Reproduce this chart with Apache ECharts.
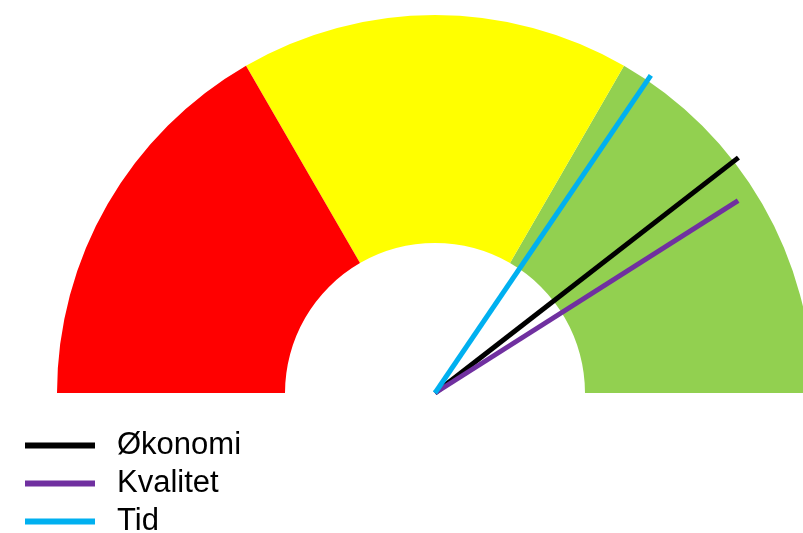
<!DOCTYPE html>
<html>
<head>
<meta charset="utf-8">
<script src="https://cdn.jsdelivr.net/npm/echarts@6/dist/echarts.min.js"></script>
<style>
  html, body { margin: 0; padding: 0; background: #fff; }
  #myChart { width: 803px; height: 533px; }
</style>
</head>
<body>
<div id="myChart"></div>
<script>
// gauge bands (share of the half circle) and their colours
var bandStops = [1 / 3, 2 / 3, 1]
var bandColors = ['#FF0000', '#FFFF00', '#92D050']

// needles
var names = ['Økonomi', 'Kvalitet', 'Tid']
var values = [79, 82, 69]
var needleColors = ['#000000', '#7030A0', '#00B0F0']
var needleLengths = [384, 359, 384]

var center = [435, 393]

function buildGauge (i) {
  return {
    name: names[i],
    type: 'gauge',
    center: center,
    radius: 378,
    startAngle: 180,
    endAngle: 0,
    min: 0,
    max: 100,
    z: 2 + i,
    axisLine: {
      show: i === 0,
      roundCap: false,
      lineStyle: {
        width: 228,
        color: bandStops.map(function (s, k) { return [s, bandColors[k]] })
      }
    },
    splitLine: { show: false },
    axisTick: { show: false },
    axisLabel: { show: false },
    anchor: { show: false },
    progress: { show: false },
    title: { show: false },
    detail: { show: false },
    pointer: {
      show: true,
      icon: 'rect',
      length: needleLengths[i],
      width: 5,
      offsetCenter: [0, 0],
      itemStyle: { color: needleColors[i] }
    },
    itemStyle: { color: needleColors[i] },
    data: [{ name: names[i], value: values[i] }]
  }
}

var chart = echarts.init(document.getElementById('myChart'))
chart.setOption({
  animation: false,
  legend: {
    orient: 'vertical',
    left: 25,
    top: 430,
    height: 160,
    padding: 0,
    itemWidth: 70,
    itemHeight: 6,
    itemGap: 7,
    icon: 'rect',
    textStyle: {
      fontFamily: 'Liberation Sans, Arial, sans-serif',
      fontSize: 31,
      color: '#000',
      padding: [0, 0, 0, 17]
    },
    data: names.map(function (n, i) {
      return { name: n, itemStyle: { color: needleColors[i] } }
    })
  },
  series: names.map(function (n, i) { return buildGauge(i) })
})
</script>
</body>
</html>
